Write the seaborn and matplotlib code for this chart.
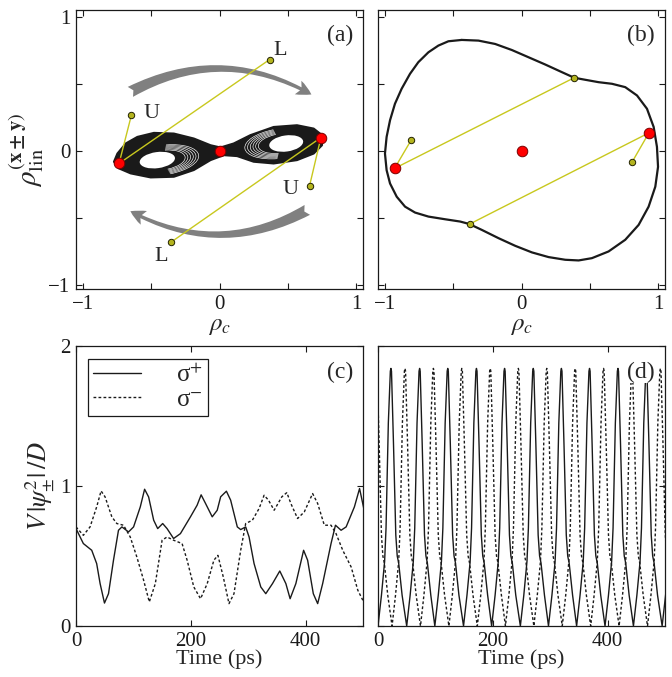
import numpy as np
import matplotlib
matplotlib.use("Agg")
import matplotlib.pyplot as plt
from matplotlib.patches import Ellipse, Arc, FancyArrowPatch
from matplotlib.lines import Line2D
import seaborn as sns

# ---- panel (a): attractor outline, holes and fixed points ----
attr_x = [-0.772, -0.747, -0.686, -0.601, -0.480, -0.334, -0.188, -0.066, 0.007, 0.104,
          0.226, 0.396, 0.567, 0.689, 0.750, 0.750, 0.689, 0.567, 0.396, 0.250,
          0.129, 0.031, -0.066, -0.188, -0.334, -0.504, -0.650, -0.735]
attr_y = [-0.081, -0.020, 0.055, 0.104, 0.134, 0.129, 0.092, 0.042, 0.025, 0.055,
          0.117, 0.178, 0.191, 0.166, 0.117, 0.042, -0.020, -0.069, -0.094, -0.081,
          -0.039, -0.032, -0.069, -0.143, -0.193, -0.198, -0.168, -0.131]
hole_cx = [-0.455, 0.488]
hole_cy = [-0.069, 0.055]
hole_w = [0.26, 0.25]
hole_h = [0.12, 0.12]
streak_w = [0.33, 0.37, 0.41, 0.45, 0.49, 0.53]
streak_h = [0.145, 0.16, 0.175, 0.19, 0.205, 0.22]

red_a_x = [-0.735, 0.0, 0.742]
red_a_y = [-0.094, 0.0, 0.099]
yel_a_x = [-0.645, 0.367, 0.659, -0.355]
yel_a_y = [0.265, 0.681, -0.260, -0.681]
yel_a_from = [0, 0, 2, 2]          # index of the red point each yellow point connects to
lab_a_text = ["U", "L", "U", "L"]
lab_a_x = [-0.50, 0.44, 0.52, -0.43]
lab_a_y = [0.28, 0.75, -0.29, -0.79]

arrow_tail = [(-0.67, 0.43), (0.66, -0.43)]
arrow_head = [(0.69, 0.41), (-0.67, -0.44)]

# ---- panel (b): periodic orbit and fixed points ----
loop_b_x = [-0.437, -0.535, -0.608, -0.681, -0.755, -0.816, -0.877, -0.926, -0.962, -0.987,
            -0.999, -0.987, -0.962, -0.913, -0.852, -0.779, -0.681, -0.559, -0.449, -0.383,
            -0.291, -0.168, -0.046, 0.076, 0.198, 0.320, 0.418, 0.515, 0.637, 0.759,
            0.857, 0.930, 0.979, 0.999, 0.991, 0.967, 0.918, 0.845, 0.759, 0.662,
            0.564, 0.466, 0.386, 0.295, 0.173, 0.051, -0.071, -0.193, -0.315, -0.437]
loop_b_y = [0.827, 0.817, 0.785, 0.735, 0.661, 0.574, 0.463, 0.351, 0.228, 0.104,
            -0.020, -0.144, -0.243, -0.342, -0.416, -0.460, -0.490, -0.510, -0.527, -0.545,
            -0.589, -0.651, -0.708, -0.757, -0.792, -0.812, -0.817, -0.800, -0.750, -0.663,
            -0.552, -0.416, -0.267, -0.119, 0.030, 0.178, 0.314, 0.413, 0.475, 0.500,
            0.512, 0.530, 0.545, 0.587, 0.644, 0.698, 0.752, 0.797, 0.822, 0.827]
red_b_x = [-0.929, 0.0, 0.932]
red_b_y = [-0.131, 0.0, 0.134]
yel_b_x = [-0.805, 0.385, 0.810, -0.378]
yel_b_y = [0.084, 0.545, -0.082, -0.545]
yel_b_from = [0, 0, 2, 2]

# ---- panel (c): chaotic intensities ----
c_plus_t = [0, 12.8, 27.4, 36, 42, 49.6, 56.6, 65.3, 74, 80, 91.5, 100.3, 112, 119.5, 126.5,
            135.3, 142.3, 151, 158.6, 170, 181.9, 199.4, 211, 218, 225.7, 237.3, 246, 252,
            262, 269.4, 281, 286.9, 295.6, 301.5, 310.2, 321.9, 330.6, 342.3, 355, 365.6,
            373, 383, 396.5, 403.5, 413.4, 421, 429.7, 444.3, 452, 461.8, 470.6, 485, 494,
            502.6]
c_plus_y = [0.696, 0.589, 0.541, 0.446, 0.303, 0.164, 0.231, 0.470, 0.684, 0.708, 0.672,
            0.708, 0.851, 0.977, 0.922, 0.756, 0.696, 0.732, 0.696, 0.625, 0.660, 0.780,
            0.863, 0.937, 0.875, 0.780, 0.827, 0.923, 0.963, 0.899, 0.708, 0.689, 0.708,
            0.636, 0.446, 0.279, 0.231, 0.303, 0.393, 0.303, 0.195, 0.303, 0.541, 0.470,
            0.231, 0.160, 0.303, 0.589, 0.720, 0.684, 0.708, 0.851, 0.982, 0.815]
c_minus_t = [0, 12.8, 24.5, 36, 43.7, 50.7, 62.4, 71.1, 82.8, 94.5, 106, 117.8, 127.7, 138.2,
             150, 158.6, 170, 184.8, 193.6, 205.2, 217, 228.6, 240.2, 247.2, 256.6, 266.5,
             275.2, 286.9, 295.6, 307.3, 318.9, 327.7, 335.3, 345.2, 358.6, 367.3, 374.3,
             386, 397.7, 412.2, 421, 432.6, 444.3, 453, 464.7, 479.3, 491, 499.7]
c_minus_y = [0.708, 0.648, 0.708, 0.851, 0.965, 0.922, 0.780, 0.732, 0.720, 0.636, 0.493,
             0.327, 0.172, 0.303, 0.613, 0.636, 0.613, 0.589, 0.470, 0.279, 0.195, 0.303,
             0.470, 0.505, 0.350, 0.160, 0.231, 0.541, 0.732, 0.756, 0.839, 0.934, 0.899,
             0.827, 0.923, 0.953, 0.875, 0.768, 0.815, 0.946, 0.875, 0.720, 0.720, 0.660,
             0.541, 0.422, 0.255, 0.184]

cycle_t = [0, 6, 11.5, 14, 18, 21.5, 22.5, 23.5, 27, 31, 33.5, 36, 42]
cycle_y = [0, 0.22, 0.46, 0.70, 1.45, 1.82, 1.84, 1.82, 1.30, 0.65, 0.50, 0.45, 0.22]
d_plus_starts = [0, 50, 99, 149, 198, 248, 297, 346, 395.5, 445, 495]
d_minus_starts = [-25, 24.5, 74, 123.5, 173, 222, 271.5, 321, 370.5, 420, 469.5, 519]

legend_labels = ["σ$^{+}$", "σ$^{-}$"]

# ---- style ----
sns.set_theme(style="ticks")
plt.rcParams["font.family"] = ["Liberation Serif", "DejaVu Serif"]
plt.rcParams["mathtext.fontset"] = "stix"
plt.rcParams["axes.linewidth"] = 0.9

yel_line = "#c8c81e"
yel_face = "#b4b41e"
dotted = (0, (2.0, 1.6))

fig = plt.figure(figsize=(6.72, 6.77), dpi=100)
ax_a = fig.add_axes([0.1131, 0.5731, 0.4271, 0.4121])
ax_b = fig.add_axes([0.5625, 0.5731, 0.4271, 0.4121])
ax_c = fig.add_axes([0.1131, 0.0753, 0.4271, 0.4136])
ax_d = fig.add_axes([0.5625, 0.0753, 0.4271, 0.4136])


def style(ax, labelsize=15):
    ax.tick_params(direction="in", top=True, right=True, length=4, width=0.8,
                   labelsize=labelsize, pad=4, colors="k")
    for s in ax.spines.values():
        s.set_color("k")
        s.set_linewidth(0.9)
    ax.set_facecolor("white")


def draw_links(ax, rx, ry, yx, yy, frm):
    for i in range(len(yx)):
        j = frm[i]
        ax.plot([rx[j], yx[i]], [ry[j], yy[i]], color=yel_line, lw=1.0, zorder=5)
    ax.plot(yx, yy, ls="none", marker="o", ms=4.6, mfc=yel_face, mec="#222200",
            mew=0.7, zorder=6)
    ax.plot(rx, ry, ls="none", marker="o", ms=7.6, mfc="#ff0000", mec="#7a0000",
            mew=0.7, zorder=7)


# (a)
for tail, head in zip(arrow_tail, arrow_head):
    arr = FancyArrowPatch(tail, head, connectionstyle="arc3,rad=-0.28",
                          arrowstyle="fancy,head_length=0.6,head_width=0.6,tail_width=0.45",
                          mutation_scale=18, color="#808080", lw=0, zorder=1)
    ax_a.add_patch(arr)
ax_a.fill(attr_x, attr_y, color="k", lw=1.5, joinstyle="round", zorder=2)
for cx, cy, w, h in zip(hole_cx, hole_cy, hole_w, hole_h):
    ax_a.add_patch(Ellipse((cx, cy), w, h, angle=8, fc="white", ec="none", zorder=3))
for w, h in zip(streak_w, streak_h):
    ax_a.add_patch(Arc((hole_cx[0] + 0.04, hole_cy[0]), w, h, angle=8, theta1=-70, theta2=70,
                       ec="white", lw=0.45, zorder=3))
    ax_a.add_patch(Arc((hole_cx[1] - 0.04, hole_cy[1]), w, h, angle=8, theta1=110, theta2=250,
                       ec="white", lw=0.45, zorder=3))
draw_links(ax_a, red_a_x, red_a_y, yel_a_x, yel_a_y, yel_a_from)
for txt, x, y in zip(lab_a_text, lab_a_x, lab_a_y):
    ax_a.text(x, y, txt, fontsize=16, ha="center", va="center", zorder=8)

# (b)
sns.lineplot(x=loop_b_x, y=loop_b_y, sort=False, estimator=None, color="k", lw=1.6,
             ax=ax_b, zorder=4)
draw_links(ax_b, red_b_x, red_b_y, yel_b_x, yel_b_y, yel_b_from)

for ax in (ax_a, ax_b):
    ax.set_xlim(-1.05, 1.05)
    ax.set_ylim(-1.03, 1.05)
    ax.set_xticks([-1, -0.5, 0, 0.5, 1], ["\u22121", "", "0", "", "1"])
    ax.set_yticks([-1, -0.5, 0, 0.5, 1], ["\u22121", "", "0", "", "1"])
    ax.set_xlabel(r"$\rho_c$", fontsize=18, labelpad=1)
    style(ax)
ax_b.set_yticklabels([])
ax_a.set_ylabel(r"$\rho_{\mathrm{lin}}^{(\mathbf{x\pm y})}$", fontsize=21, labelpad=2)

# (c)
sns.lineplot(x=c_plus_t, y=c_plus_y, sort=False, estimator=None, color="k", lw=1.0, ax=ax_c)
sns.lineplot(x=c_minus_t, y=c_minus_y, sort=False, estimator=None, color="k", lw=1.0,
             linestyle=dotted, ax=ax_c)

# (d)
d_plus_t = np.concatenate([np.array(cycle_t) + s for s in d_plus_starts])
d_plus_y = np.tile(cycle_y, len(d_plus_starts))
d_minus_t = np.concatenate([np.array(cycle_t) + s for s in d_minus_starts])
d_minus_y = np.tile(cycle_y, len(d_minus_starts))
sns.lineplot(x=d_plus_t, y=d_plus_y, sort=False, estimator=None, color="k", lw=1.0, ax=ax_d)
sns.lineplot(x=d_minus_t, y=d_minus_y, sort=False, estimator=None, color="k", lw=1.0,
             linestyle=dotted, ax=ax_d)

for ax in (ax_c, ax_d):
    ax.set_xlim(0, 500)
    ax.set_ylim(0, 2)
    ax.set_xticks([0, 200, 400])
    ax.set_yticks([0, 1, 2])
    ax.set_xlabel("Time (ps)", fontsize=16, labelpad=-1)
    style(ax)
ax_d.set_yticklabels([])
ax_c.set_ylabel(r"$V\,|\psi_{\pm}^{2}|\,/D$", fontsize=19, labelpad=2)

handles = [Line2D([], [], color="k", lw=1.0),
           Line2D([], [], color="k", lw=1.0, linestyle=dotted)]
leg = ax_c.legend(handles, legend_labels, loc="upper left", bbox_to_anchor=(0.042, 0.954),
                  borderaxespad=0, fancybox=False, edgecolor="k", framealpha=1, fontsize=18,
                  handlelength=1.9, handletextpad=1.4, labelspacing=0.05, borderpad=0.2)
leg.get_frame().set_linewidth(0.9)

# panel labels
for ax, lab in zip((ax_a, ax_b, ax_c, ax_d), ("(a)", "(b)", "(c)", "(d)")):
    ax.text(0.965, 0.945, lab, transform=ax.transAxes, fontsize=17, ha="right", va="top",
            zorder=10, bbox=dict(fc="white", ec="none", pad=0.5))

fig.savefig("out.png", dpi=100)
